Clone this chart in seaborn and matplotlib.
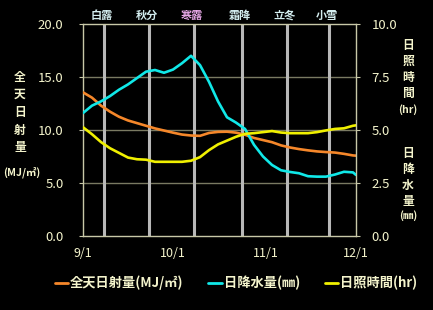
import matplotlib
matplotlib.use("Agg")
import matplotlib.pyplot as plt
import seaborn as sns
import pandas as pd
from matplotlib.lines import Line2D

# ---- data ----
day_offsets = [0, 3, 6, 9, 12, 15, 18, 21, 24, 27, 30, 33, 36, 39, 42, 45, 48, 51,
               54, 57, 60, 63, 66, 69, 72, 75, 78, 81, 84, 87, 90, 91]
solar = [13.55, 13.05, 12.3, 11.73, 11.25, 10.9, 10.65, 10.4, 10.15, 9.95, 9.75, 9.57,
         9.48, 9.45, 9.72, 9.82, 9.84, 9.75, 9.55, 9.25, 9.05, 8.85, 8.55, 8.35, 8.2,
         8.08, 7.98, 7.92, 7.87, 7.75, 7.6, 7.58]
precip = [5.8, 6.15, 6.35, 6.6, 6.9, 7.15, 7.45, 7.75, 7.83, 7.7, 7.85, 8.15, 8.5, 8.06,
          7.27, 6.35, 5.6, 5.35, 5.05, 4.3, 3.75, 3.35, 3.1, 3.02, 2.96, 2.82, 2.8, 2.8,
          2.9, 3.03, 3.0, 2.88]
sunshine = [5.13, 4.8, 4.43, 4.14, 3.92, 3.7, 3.62, 3.6, 3.5, 3.5, 3.5, 3.5, 3.55, 3.72,
            4.05, 4.32, 4.5, 4.68, 4.82, 4.85, 4.9, 4.95, 4.88, 4.85, 4.85, 4.85, 4.9,
            4.98, 5.05, 5.08, 5.2, 5.22]
sekki_names = ["白露", "秋分", "寒露", "霜降", "立冬", "小雪"]
sekki_dates = ["2023-09-08", "2023-09-23", "2023-10-08", "2023-10-24", "2023-11-08", "2023-11-22"]
xtick_dates = ["2023-09-01", "2023-10-01", "2023-11-01", "2023-12-01"]
xtick_labels = ["9/1", "10/1", "11/1", "12/1"]
left_ticks = [0.0, 5.0, 10.0, 15.0, 20.0]
right_ticks = [0.0, 2.5, 5.0, 7.5, 10.0]
series_labels = ["全天日射量(MJ/㎡)", "日降水量(㎜)", "日照時間(hr)"]

dates = pd.Timestamp("2023-09-01") + pd.to_timedelta(day_offsets, unit="D")
df = pd.DataFrame({"date": dates, "solar": solar, "precip": precip, "sunshine": sunshine})

# ---- style ----
sns.set_style("dark")
plt.rcParams['font.family'] = ['Noto Sans CJK JP', 'DejaVu Sans']

BG = "black"
TXT = "#f4f4cc"
GRID = "#7a7a62"
SPINE = "#c8c8a8"
ORANGE = "#f5872a"
CYAN = "#10e8e8"
YELLOW = "#f0f000"

fig = plt.figure(figsize=(4.33, 3.10), dpi=100, facecolor=BG)
ax = fig.add_axes([0.1917, 0.2387, 0.6305, 0.6839])
ax.set_facecolor(BG)
ax2 = ax.twinx()

for v in left_ticks[1:-1]:
    ax.axhline(v, color=GRID, lw=1.0, zorder=1)

for d in sekki_dates:
    ax.axvline(pd.Timestamp(d), color="#b8b8b8", lw=2.2, zorder=2)

sns.lineplot(data=df, x="date", y="solar", ax=ax, color=ORANGE, lw=1.9, zorder=5, legend=False)
sns.lineplot(data=df, x="date", y="precip", ax=ax2, color=CYAN, lw=1.9, zorder=5, legend=False)
sns.lineplot(data=df, x="date", y="sunshine", ax=ax2, color=YELLOW, lw=1.9, zorder=5, legend=False)

ax.set_xlim(pd.Timestamp("2023-09-01"), pd.Timestamp("2023-12-01"))
ax.set_ylim(0, 20)
ax2.set_ylim(0, 10)
ax.set_xlabel("")
ax.set_ylabel("")
ax2.set_ylabel("")

ax.set_xticks([pd.Timestamp(d) for d in xtick_dates])
ax.set_xticklabels(xtick_labels)
ax.set_yticks(left_ticks)
ax.set_yticklabels([f"{v:.1f}" for v in left_ticks])
ax2.set_yticks(right_ticks)
ax2.set_yticklabels([f"{v:.1f}" for v in right_ticks])

ax.tick_params(axis="x", direction="in", length=3, color=SPINE, colors=TXT, labelsize=9, pad=8)
ax.tick_params(axis="y", direction="out", length=3, color=SPINE, colors=TXT, labelsize=9.5, pad=11, left=True)
ax2.tick_params(axis="y", direction="out", length=3, color=SPINE, colors=TXT, labelsize=9.5, pad=8, right=True)

for a in (ax, ax2):
    a.grid(False)
    for s in a.spines.values():
        s.set_visible(False)
for s in ("left", "bottom", "top"):
    ax.spines[s].set_visible(True)
    ax.spines[s].set_color(SPINE)
    ax.spines[s].set_linewidth(1.0)
ax2.spines["right"].set_visible(True)
ax2.spines["right"].set_color(SPINE)
ax2.spines["right"].set_linewidth(1.0)

for name, d in zip(sekki_names, sekki_dates):
    col = "#e8a8e8" if name == "寒露" else "#d4eef0"
    ax.text(pd.Timestamp(d) - pd.Timedelta(days=0.7), 20.2, name, ha="center", va="bottom",
            color=col, fontsize=8, fontweight="bold")

def stack(x, y_top, chars, step):
    for i, c in enumerate(chars):
        fig.text(x / 433, 1 - (y_top + i * step) / 310, c, ha="center", va="center",
                 color=TXT, fontsize=8.5, fontweight="bold")

stack(20, 77, "全天日射量", 17.7)
fig.text(22 / 433, 1 - 172 / 310, "(MJ/㎡)", ha="center", va="center", color=TXT, fontsize=7.5, fontweight="bold")
stack(408, 45, "日照時間", 16.2)
fig.text(408 / 433, 1 - 110 / 310, "(hr)", ha="center", va="center", color=TXT, fontsize=7.5, fontweight="bold")
stack(408, 153, "日降水量", 16.3)
fig.text(408 / 433, 1 - 216 / 310, "(㎜)", ha="center", va="center", color=TXT, fontsize=7.5, fontweight="bold")

handles = [Line2D([0], [0], color=c, lw=2) for c in (ORANGE, CYAN, YELLOW)]
leg = fig.legend(handles, series_labels, loc="center", bbox_to_anchor=(0.545, 1 - 283 / 310),
                 ncol=3, frameon=False, handlelength=1.0, handletextpad=0.15, columnspacing=1.9,
                 prop={"size": 9.5, "weight": "bold"})
for t in leg.get_texts():
    t.set_color(TXT)

fig.savefig("out.png", dpi=100, facecolor=BG)
